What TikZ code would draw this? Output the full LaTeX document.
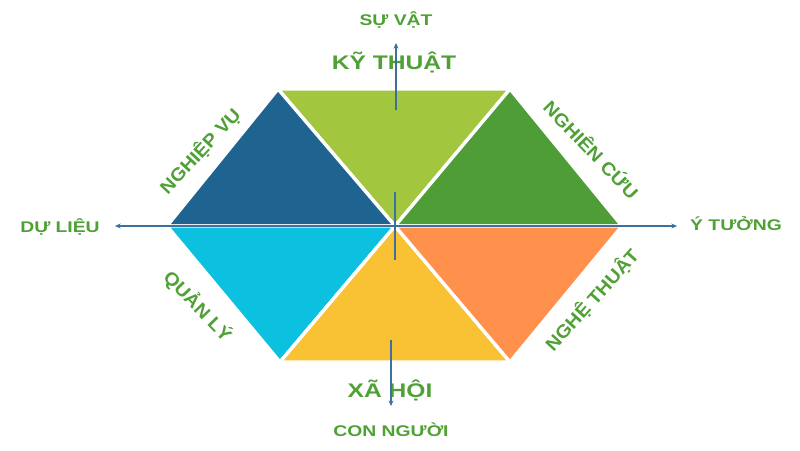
\documentclass[tikz,border=0pt]{standalone}
\usepackage{fontspec}
\setmainfont{Liberation Sans}[FakeStretch=1.25]
\newfontfamily\xienfont{Liberation Sans}[FakeStretch=1.08]
\usetikzlibrary{arrows.meta}

\definecolor{kythuat}{HTML}{A2C73E}
\definecolor{nghiepvu}{HTML}{1F6391}
\definecolor{nghiencuu}{HTML}{4E9D36}
\definecolor{quanly}{HTML}{0CC0DF}
\definecolor{xahoi}{HTML}{F9C134}
\definecolor{nghethuat}{HTML}{FF914D}
\definecolor{chuxanh}{HTML}{4FA035}
\definecolor{trucxanh}{HTML}{3D6FA0}

\begin{document}
\begin{tikzpicture}[x=0.025cm,y=-0.025cm,
  tamgiac/.style={draw=white,line width=2.4pt,line join=round},
  truc/.style={draw=trucxanh,line width=0.9pt},
  mui/.tip={Stealth[length=4pt,width=3.5pt]},
  nhan/.style={font=\bfseries\fontsize{11}{13}\selectfont,text=chuxanh,inner sep=0pt,text height=8pt,text depth=0pt},
  nhanxien/.style={nhan,font=\xienfont\bfseries\fontsize{13}{15}\selectfont,text height=9.5pt},
  nhanlon/.style={nhan,font=\bfseries\fontsize{14}{16}\selectfont,text height=10pt}]
\useasboundingbox (0,0) rectangle (800,450);
\coordinate (O) at (395,226);
\coordinate (L) at (167,226);
\coordinate (R) at (622,226);
\coordinate (TL) at (278,89);
\coordinate (TR) at (510,89);
\coordinate (BL) at (280,362);
\coordinate (BR) at (510,362);

% six triangles
\draw[tamgiac,fill=kythuat] (TL) -- (TR) -- (O) -- cycle;
\draw[tamgiac,fill=nghiepvu] (L) -- (TL) -- (O) -- cycle;
\draw[tamgiac,fill=nghiencuu] (TR) -- (R) -- (O) -- cycle;
\draw[tamgiac,fill=quanly] (L) -- (BL) -- (O) -- cycle;
\draw[tamgiac,fill=xahoi] (BL) -- (BR) -- (O) -- cycle;
\draw[tamgiac,fill=nghethuat] (BR) -- (R) -- (O) -- cycle;

% labels
\node[nhan] (suvat) at (396,20) {SỰ VẬT};
\node[nhanlon] (kythuatlbl) at (394,62) {KỸ THUẬT};
\node[nhan] (dulieu) at (60,227) {DỰ LIỆU};
\node[nhan] (ytuong) at (736,225) {Ý TƯỞNG};
\node[nhanlon] (xahoilbl) at (390,390) {XÃ HỘI};
\node[nhan] (connguoi) at (391,431) {CON NGƯỜI};
\node[nhanxien,rotate=47] (nghiepvulbl) at (200,151) {NGHIỆP VỤ};
\node[nhanxien,rotate=-46] (nghiencuulbl) at (591,150) {NGHIÊN CỨU};
\node[nhanxien,rotate=-46] (quanlylbl) at (198,306) {QUẢN LÝ};
\node[nhanxien,rotate=48] (nghethuatlbl) at (592,300) {NGHỆ THUẬT};

% axes
\coordinate (trai) at (115,226);
\coordinate (phai) at (677,226);
\coordinate (tren1) at (396,110);
\coordinate (tren2) at (396,43);
\coordinate (giua1) at (395,192);
\coordinate (giua2) at (395,260);
\coordinate (duoi1) at (391,340);
\coordinate (duoi2) at (391,406);
\draw[truc,mui-mui] (trai) -- (phai);
\draw[truc,-mui] (tren1) -- (tren2);
\draw[truc] (giua1) -- (giua2);
\draw[truc,-mui] (duoi1) -- (duoi2);

\end{tikzpicture}
\end{document}
